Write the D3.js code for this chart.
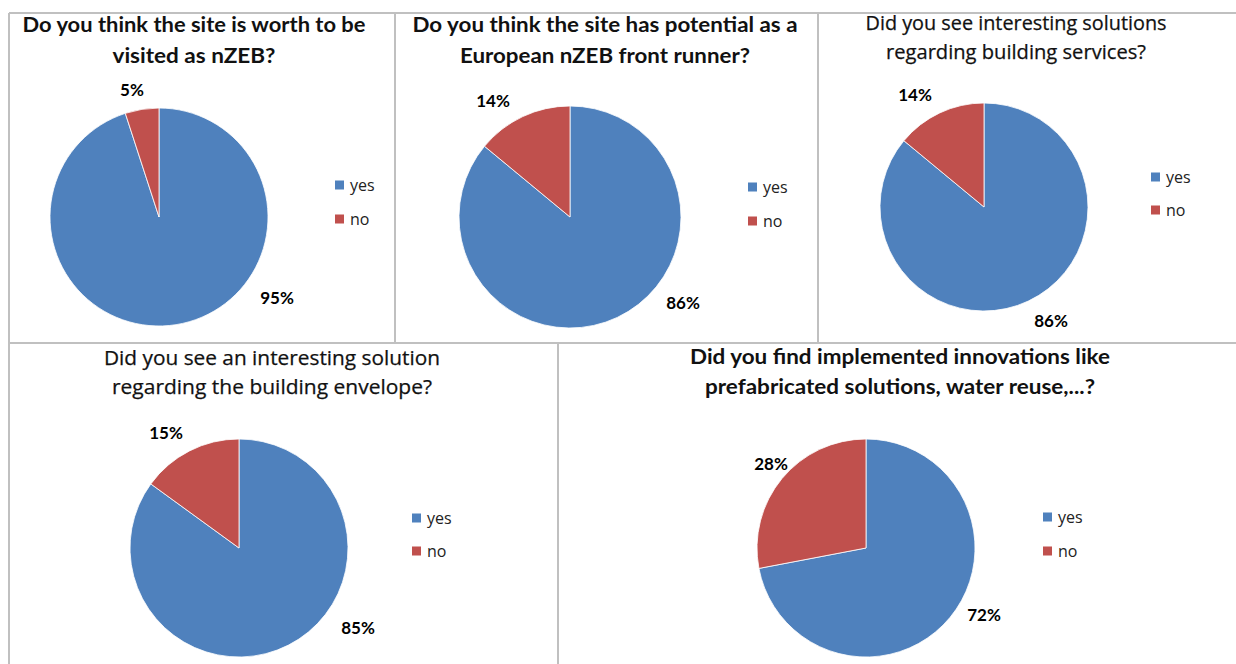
<!DOCTYPE html>
<html>
<head>
<meta charset="utf-8">
<script src="https://cdn.jsdelivr.net/npm/d3@7"></script>
<style>
  html, body { margin: 0; padding: 0; background: #fff; }
  svg { display: block; }
</style>
</head>
<body>
<svg id="chart" width="1236" height="664"></svg>
<script>
// Survey answers, one pie per question
const categories = ["yes", "no"];
const questions = [
  ["Do you think the site is worth to be", "visited as nZEB?"],
  ["Do you think the site has potential as a", "European nZEB front runner?"],
  ["Did you see interesting solutions", "regarding building services?"],
  ["Did you see an interesting solution", "regarding the building envelope?"],
  ["Did you find implemented innovations like", "prefabricated solutions, water reuse,...?"]
];
const yesValues = [95, 86, 86, 85, 72];
const noValues = [5, 14, 14, 15, 28];

// Layout of each panel: pie centre/radius, title lines, legend and label offsets
const layout = [
  { cx: 159, cy: 217, r: 109, tx: 194, ty: [25, 56], tw: [343, 163], bold: true,
    lx: 335, ly: [185, 219], lab: [[118, 81], [-27, -127]] },
  { cx: 570, cy: 217, r: 111, tx: 605, ty: [25, 56], tw: [385, 290], bold: true,
    lx: 748, ly: [187, 221], lab: [[113, 86], [-77, -116]] },
  { cx: 984, cy: 207, r: 104, tx: 1016, ty: [23, 52], tw: [301, 260], bold: false,
    lx: 1151, ly: [177, 210], lab: [[67, 114], [-69, -112]] },
  { cx: 239, cy: 548, r: 109, tx: 272, ty: [358, 387], tw: [336, 320], bold: false,
    lx: 412, ly: [518, 551], lab: [[119, 80], [-73, -115]] },
  { cx: 866, cy: 548, r: 109, tx: 900, ty: [357, 387], tw: [420, 390], bold: true,
    lx: 1043, ly: [517, 551], lab: [[118, 67], [-95, -84]] }
];

const color = d3.scaleOrdinal().domain(categories).range(["#4F81BD", "#C0504D"]);
const svg = d3.select("#chart");
const boldFont = "Lato, 'Open Sans', 'DejaVu Sans', sans-serif";
const plainFont = "'Open Sans', Lato, 'DejaVu Sans', sans-serif";

// Panel frame lines
const frame = svg.append("g").attr("stroke", "#c0c0c0").attr("stroke-width", 2);
[[9, 13, 1236, 13], [9, 13, 9, 664], [9, 343, 1236, 343],
 [395, 13, 395, 343], [818, 13, 818, 343], [558, 343, 558, 664]]
  .forEach(([x1, y1, x2, y2]) => frame.append("line")
    .attr("x1", x1).attr("y1", y1).attr("x2", x2).attr("y2", y2));

const pie = d3.pie().sort(null).value(d => d.value);

questions.forEach((lines, i) => {
  const L = layout[i];
  const data = categories.map((c, k) => ({ cat: c, value: k === 0 ? yesValues[i] : noValues[i] }));
  const arc = d3.arc().innerRadius(0).outerRadius(L.r);
  const g = svg.append("g");

  // title
  lines.forEach((t, j) => {
    g.append("text")
      .attr("x", L.tx).attr("y", L.ty[j]).attr("dy", "0.35em")
      .attr("text-anchor", "middle")
      .attr("font-family", L.bold ? boldFont : plainFont).attr("font-size", 20)
      .attr("font-weight", L.bold ? "bold" : "normal").attr("fill", "#111")
      .attr("stroke", L.bold ? "none" : "#111").attr("stroke-width", 0.25)
      .attr("textLength", L.tw[j]).attr("lengthAdjust", "spacingAndGlyphs")
      .text(t);
  });

  // slices
  const pg = g.append("g").attr("transform", `translate(${L.cx},${L.cy})`);
  const arcs = pie(data);
  pg.selectAll("path").data(arcs).join("path")
    .attr("d", arc)
    .attr("fill", d => color(d.data.cat))
    .attr("stroke", "#fff").attr("stroke-width", 0.8);

  // value labels
  pg.selectAll("text.val").data(arcs).join("text")
    .attr("class", "val")
    .attr("x", (d, k) => L.lab[k][0]).attr("y", (d, k) => L.lab[k][1])
    .attr("dy", "0.35em").attr("text-anchor", "middle")
    .attr("font-family", boldFont).attr("font-size", 17).attr("font-weight", "bold")
    .attr("fill", "#000")
    .text(d => d.data.value + "%");

  // legend
  const lg = g.append("g");
  categories.forEach((c, k) => {
    lg.append("rect")
      .attr("x", L.lx).attr("y", L.ly[k] - 4.5)
      .attr("width", 9).attr("height", 9)
      .attr("fill", color(c));
    lg.append("text")
      .attr("x", L.lx + 15).attr("y", L.ly[k]).attr("dy", "0.35em")
      .attr("font-family", plainFont).attr("font-size", 16)
      .attr("fill", "#222")
      .text(c);
  });
});
</script>
</body>
</html>
